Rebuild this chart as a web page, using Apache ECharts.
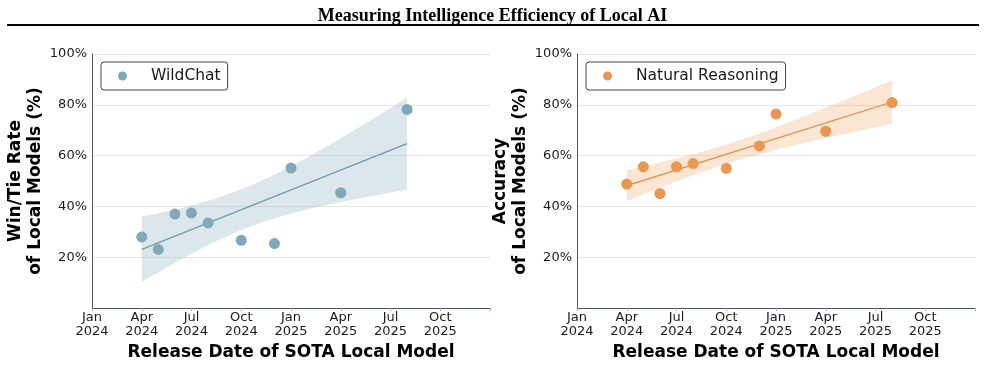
<!DOCTYPE html>
<html>
<head>
<meta charset="utf-8">
<script src="https://cdn.jsdelivr.net/npm/echarts@6/dist/echarts.min.js"></script>
<style>
html,body{margin:0;padding:0;background:#fff;}
#chart{width:985px;height:366px;}
</style>
</head>
<body>
<div id="chart"></div>
<script>
// ---- data ----
const chartTitle = 'Measuring Intelligence Efficiency of Local AI';
const releaseDates = ['2024-04','2024-05','2024-06','2024-07','2024-08','2024-10','2024-12','2025-01','2025-04','2025-08'];
const wildChat = [28.0, 23.1, 37.0, 37.4, 33.5, 26.7, 25.4, 55.1, 45.4, 78.2];
const naturalReasoning = [48.8, 55.6, 45.1, 55.6, 56.9, 55.0, 63.8, 76.4, 69.6, 80.9];
const xTickLabels = ['Jan\n2024','Apr\n2024','Jul\n2024','Oct\n2024','Jan\n2025','Apr\n2025','Jul\n2025','Oct\n2025'];
const yTickValues = [20, 40, 60, 80, 100];
const xAxisTitle = 'Release Date of SOTA Local Model';
const leftYTitle = 'Win/Tie Rate\nof Local Models (%)';
const rightYTitle = 'Accuracy\nof Local Models (%)';
const seriesNames = ['WildChat', 'Natural Reasoning'];

// months since Jan 2024
function monthIndex(s){ const [y,m] = s.split('-').map(Number); return (y-2024)*12 + (m-1); }
const xs = releaseDates.map(monthIndex);

// linear regression with 95% confidence band (derived from the data)
function regress(x, y){
  const n = x.length;
  const mx = x.reduce((a,b)=>a+b,0)/n, my = y.reduce((a,b)=>a+b,0)/n;
  let sxx=0, sxy=0;
  for(let i=0;i<n;i++){ sxx += (x[i]-mx)**2; sxy += (x[i]-mx)*(y[i]-my); }
  const b = sxy/sxx, a = my - b*mx;
  let sse=0; for(let i=0;i<n;i++){ sse += (y[i]-(a+b*x[i]))**2; }
  const s = Math.sqrt(sse/(n-2));
  const tTable = {6:2.447,7:2.365,8:2.306,9:2.262,10:2.228};
  const t = tTable[n-2] || 2.0;
  const x0 = Math.min(...x), x1 = Math.max(...x);
  const upper=[], lower=[];
  const steps = 80;
  for(let k=0;k<=steps;k++){
    const xv = x0 + (x1-x0)*k/steps;
    const yh = a + b*xv;
    const se = s*Math.sqrt(1/n + (xv-mx)**2/sxx);
    upper.push([xv, yh + t*se]);
    lower.push([xv, yh - t*se]);
  }
  return {line:[[x0,a+b*x0],[x1,a+b*x1]], band: upper.concat(lower.reverse())};
}

const fits = [regress(xs, wildChat), regress(xs, naturalReasoning)];
const colors = [
  {pt:'#7fa8b8', line:'#6e9bad', band:'rgba(127,168,184,0.27)'},
  {pt:'#ec964f', line:'#e8883c', band:'rgba(240,150,80,0.25)'}
];
const grids = [
  {left:92, top:54, width:398, height:257},
  {left:577, top:54, width:398, height:257}
];
const font = 'DejaVu Sans';

const option = {
  backgroundColor:'#fff',
  animation:false,
  title:{text:chartTitle, left:'center', top:2,
    textStyle:{fontFamily:'Liberation Serif', fontWeight:'bold', fontSize:18, color:'#000'}},
  graphic:[{type:'rect', shape:{x:7, y:24, width:972, height:2}, style:{fill:'#000'}}],
  grid: grids,
  legend: [0,1].map(i=>({
    data:[seriesNames[i]],
    left: i===0 ? 101 : 586,
    top: 62,
    orient:'horizontal',
    icon:'circle',
    itemWidth:9, itemHeight:9,
    padding:[6,7,6,17],
    borderColor:'#3c4557', borderWidth:1, borderRadius:3,
    textStyle:{fontFamily:font, fontSize:15.5, color:'#1a1a1a', padding:[0,0,0,19]}
  })),
  xAxis: [0,1].map(i=>({
    type:'value', gridIndex:i, min:0, max:24, interval:3,
    name:xAxisTitle, nameLocation:'middle', nameGap:34,
    nameTextStyle:{fontFamily:font, fontWeight:'bold', fontSize:17, color:'#000'},
    axisLine:{show:true, lineStyle:{color:'#4a5366', width:1}},
    axisTick:{show:true, length:3, lineStyle:{color:'#aab0bb'}},
    axisLabel:{margin:3, fontFamily:font, fontSize:13, lineHeight:14, color:'#1a1a1a',
      formatter:(v)=>{ const k = Math.round(v/3); return k < xTickLabels.length ? xTickLabels[k] : ''; }},
    splitLine:{show:false}
  })),
  yAxis: [0,1].map(i=>({
    type:'value', gridIndex:i, min:0, max:100, interval:20,
    name: i===0 ? leftYTitle : rightYTitle, nameLocation:'middle', nameGap:41,
    nameTextStyle:{fontFamily:font, fontWeight:'bold', fontSize:17, lineHeight:20.5, color:'#000'},
    axisLine:{show:true, lineStyle:{color:'#4a5366', width:1}},
    axisTick:{show:false},
    axisLabel:{margin:5, fontFamily:font, fontSize:13, color:'#1a1a1a',
      formatter:(v)=> yTickValues.includes(v) ? v+'%' : ''},
    splitLine:{show:true, lineStyle:{color:'#e6e6e6', width:1}}
  })),
  series: []
};

[wildChat, naturalReasoning].forEach((vals, i)=>{
  const band = fits[i].band;
  option.series.push({
    type:'custom', xAxisIndex:i, yAxisIndex:i, silent:true, z:1,
    data:[[band[0][0], band[0][1]]],
    renderItem:(params, api)=>({
      type:'polygon',
      shape:{points: band.map(p=>api.coord(p))},
      style:{fill: colors[i].band}
    })
  });
  option.series.push({
    type:'line', xAxisIndex:i, yAxisIndex:i, z:2, silent:true,
    data: fits[i].line, symbol:'none',
    lineStyle:{color:colors[i].line, width:1.3}
  });
  option.series.push({
    name: seriesNames[i],
    type:'scatter', xAxisIndex:i, yAxisIndex:i, z:3,
    data: xs.map((x,k)=>[x, vals[k]]),
    symbolSize:11,
    itemStyle:{color:colors[i].pt, opacity:1}
  });
});

const chart = echarts.init(document.getElementById('chart'), null, {renderer:'canvas'});
chart.setOption(option);
</script>
</body>
</html>
